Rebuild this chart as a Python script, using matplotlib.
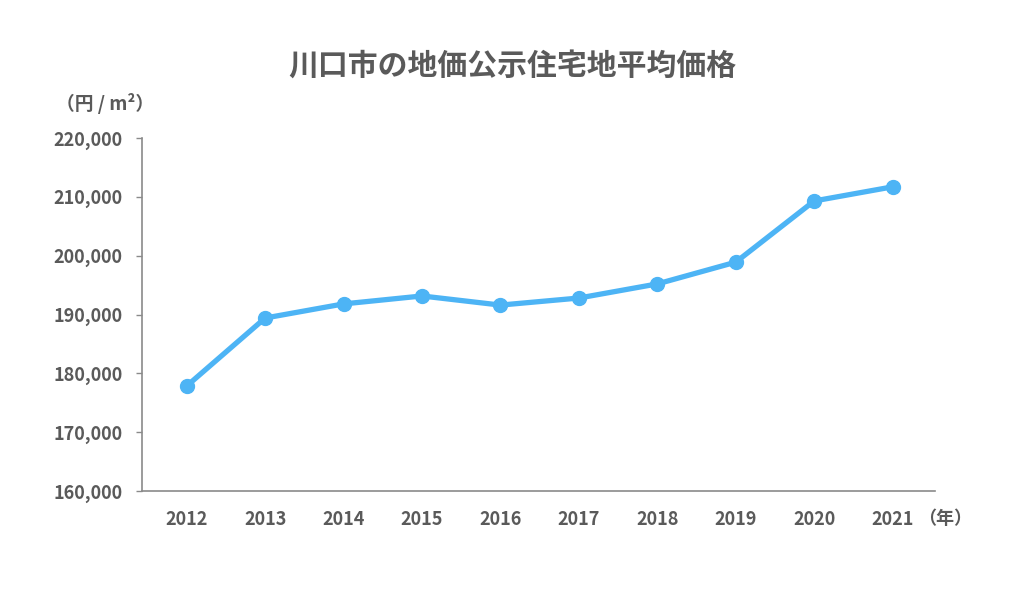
import matplotlib
matplotlib.use("Agg")
import matplotlib.pyplot as plt

plt.rcParams['font.family'] = ['Noto Sans CJK JP', 'DejaVu Sans']

years = ["2012", "2013", "2014", "2015", "2016", "2017", "2018", "2019", "2020", "2021"]
prices = [177850, 189400, 191800, 193150, 191600, 192800, 195200, 198900, 209300, 211700]
yticks = [160000, 170000, 180000, 190000, 200000, 210000, 220000]
ytick_labels = ["160,000", "170,000", "180,000", "190,000", "200,000", "210,000", "220,000"]

TXT = "#5a5a5a"
LINE = "#4db4f5"

fig = plt.figure(figsize=(10.24, 5.9), dpi=100)
ax = fig.add_axes([142/1024, 1 - 491/590, (935-142)/1024, (491-138)/590])

x = list(range(len(years)))
ax.plot(x, prices, color=LINE, linewidth=3.8, marker='o', markersize=10,
        markerfacecolor=LINE, markeredgecolor=LINE, solid_capstyle='round')

ax.set_xlim(-0.57, 9.54)
ax.set_ylim(160000, 220000)
ax.set_yticks(yticks)
ax.set_yticklabels(ytick_labels)
ax.set_xticks(x)
ax.set_xticklabels(years)

for s in ['top', 'right']:
    ax.spines[s].set_visible(False)
for s in ['left', 'bottom']:
    ax.spines[s].set_color('#8a8a8a')
    ax.spines[s].set_linewidth(1.2)

ax.tick_params(axis='y', length=4, width=1, color='#8a8a8a', pad=10,
               labelsize=13, labelcolor=TXT)
ax.tick_params(axis='x', length=0, pad=14, labelsize=13, labelcolor=TXT)
for lab in ax.get_yticklabels() + ax.get_xticklabels():
    lab.set_fontweight('bold')

fig.text(0.5, 1 - 66/590, "川口市の地価公示住宅地平均価格", ha='center', va='center',
         fontsize=21.5, fontweight='bold', color=TXT)
fig.text(105/1024, 1 - 103/590, "（円 / m²）", ha='center', va='center',
         fontsize=13.5, fontweight='bold', color=TXT)
fig.text(945/1024, 1 - 519/590, "（年）", ha='center', va='center',
         fontsize=13, fontweight='bold', color=TXT)

fig.savefig("out.png", dpi=100, facecolor='white')
